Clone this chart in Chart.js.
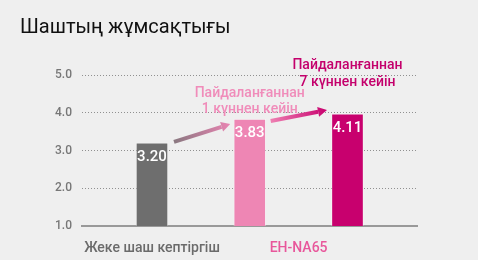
<html>
<head>
<meta charset="utf-8">
<title>Шаштың жұмсақтығы</title>
<script src="https://cdn.jsdelivr.net/npm/chart.js"></script>
<style>
  body { margin: 0; background: #efefef; }
</style>
</head>
<body>
<canvas id="graph" width="478" height="260"></canvas>
<script>
const chartTitle = "Шаштың жұмсақтығы"
const brands = ["Жеке шаш кептіргіш", "EH-NA65"]
const barBrand = [0, 1, 1]
// bar heights as drawn in the picture, and the numbers printed on them
const softness = [3.20, 3.83, 3.97]
const valueLabels = ["3.20", "3.83", "4.11"]
const notes = [null, ["Пайдаланғаннан", "1 күннен кейін"], ["Пайдаланғаннан", "7 күннен кейін"]]
const yTicks = [1, 2, 3, 4, 5]

const barColors = ["#6e6e6e", "#ee86b4", "#c8006e"]
const noteColors = [null, "#f08cba", "#c4006c"]
const brandColors = ["#6b6b6b", "#e8579b"]

const points = softness.map((v, i) => ({ x: i + 1, y: v }))
const brandPos = brands.map((b, k) => {
    const idx = barBrand.map((g, i) => g === k ? i + 1 : null).filter(v => v !== null)
    return idx.reduce((a, c) => a + c, 0) / idx.length
})

function arrow(ctx, x0, y0, x1, y1, c0, c1) {
    const g = ctx.createLinearGradient(x0, y0, x1, y1)
    g.addColorStop(0, c0)
    g.addColorStop(1, c1)
    const ang = Math.atan2(y1 - y0, x1 - x0)
    const hl = 9, hw = 5
    const bx = x1 - hl * Math.cos(ang), by = y1 - hl * Math.sin(ang)
    ctx.save()
    ctx.strokeStyle = g
    ctx.fillStyle = g
    ctx.lineWidth = 4
    ctx.beginPath()
    ctx.moveTo(x0, y0)
    ctx.lineTo(bx, by)
    ctx.stroke()
    ctx.beginPath()
    ctx.moveTo(x1, y1)
    ctx.lineTo(bx + hw * Math.sin(ang), by - hw * Math.cos(ang))
    ctx.lineTo(bx - hw * Math.sin(ang), by + hw * Math.cos(ang))
    ctx.closePath()
    ctx.fill()
    ctx.restore()
}

const extras = {
    id: "extras",
    afterDatasetsDraw(chart) {
        const ctx = chart.ctx
        const xs = chart.scales.x, ys = chart.scales.y
        ctx.save()
        // title
        ctx.fillStyle = "#111"
        ctx.font = "20px Roboto"
        ctx.textAlign = "left"
        ctx.textBaseline = "alphabetic"
        ctx.fillText(chartTitle, 20, 33)

        // values inside bars
        const meta = chart.getDatasetMeta(0)
        ctx.fillStyle = "#fff"
        ctx.font = "500 15px Roboto"
        ctx.textAlign = "center"
        ctx.textBaseline = "middle"
        meta.data.forEach((bar, i) => {
            ctx.fillText(valueLabels[i], bar.x, bar.y + 14)
        })

        // notes above bars 2 and 3
        ctx.font = "500 14px Roboto"
        notes.forEach((lines, i) => {
            if (!lines) return
            ctx.fillStyle = noteColors[i]
            const top = softness[i] + (i === 2 ? 1.27 : 0.69)
            lines.forEach((t, j) => {
                ctx.fillText(t, xs.getPixelForValue(i + 1), ys.getPixelForValue(top - j * 0.43))
            })
        })

        // arrows
        arrow(ctx, xs.getPixelForValue(1.225), ys.getPixelForValue(3.23),
              xs.getPixelForValue(1.80), ys.getPixelForValue(3.70), "#8a7880", "#e884b2")
        arrow(ctx, xs.getPixelForValue(2.214), ys.getPixelForValue(3.78),
              xs.getPixelForValue(2.79), ys.getPixelForValue(4.07), "#ee80b2", "#c8006e")
        ctx.restore()
    }
}

new Chart(document.getElementById("graph"), {
    type: "bar",
    data: {
        datasets: [{
            data: points,
            backgroundColor: barColors,
            borderColor: "rgba(255,255,255,0.35)",
            borderWidth: 1,
            barThickness: 32
        }]
    },
    options: {
        responsive: false,
        animation: false,
        events: [],
        layout: { padding: { top: 75, left: 20, right: 61, bottom: 0 } },
        plugins: { legend: { display: false }, tooltip: { enabled: false } },
        scales: {
            x: {
                type: "linear",
                offset: false,
                min: 0.284,
                max: 3.711,
                grid: { display: false },
                border: { display: true, color: "#999", width: 2 },
                afterBuildTicks: (s) => { s.ticks = brandPos.map(v => ({ value: v })) },
                afterFit: (s) => { s.height = 34 },
                ticks: {
                    padding: 6,
                    maxRotation: 0,
                    autoSkip: false,
                    font: { family: "Roboto", size: 14, weight: 500 },
                    color: (c) => brandColors[c.index],
                    callback: (v, i) => brands[i]
                }
            },
            y: {
                min: 1,
                max: 5,
                afterBuildTicks: (s) => { s.ticks = yTicks.map(v => ({ value: v })) },
                afterFit: (s) => { s.width = 62 },
                border: { display: false, dash: [1, 2] },
                grid: {
                    drawTicks: false,
                    color: (c) => c.tick.value === 1 ? "rgba(0,0,0,0)" : "#909090",
                    lineWidth: 1
                },
                ticks: {
                    padding: 10,
                    font: { family: "Roboto", size: 12, weight: 500 },
                    color: "#777",
                    callback: (v) => v.toFixed(1)
                }
            }
        }
    },
    plugins: [extras]
})
</script>
</body>
</html>
